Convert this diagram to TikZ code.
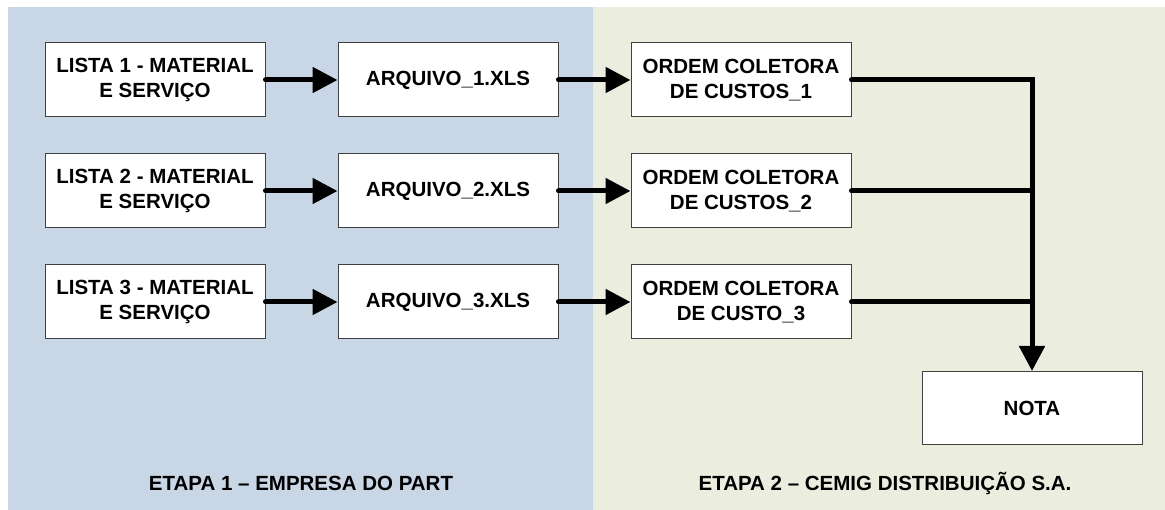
\documentclass[tikz,border=0pt]{standalone}
\usepackage{fontspec}
\setmainfont{Liberation Sans}
\usetikzlibrary{arrows.meta,positioning}
\definecolor{etapaum}{HTML}{C9D6E6}
\definecolor{etapadois}{HTML}{EBEEDF}
\definecolor{borda}{HTML}{404040}

\begin{document}
\begin{tikzpicture}[x=1pt,y=-1pt,
	caixa/.style={draw=borda, line width=1pt, fill=white, minimum width=220pt, minimum height=74pt, inner sep=0pt, align=center, font=\fontsize{20.5}{25}\selectfont\bfseries},
	seta/.style={line width=5pt, line cap=round, line join=miter, -{Triangle[length=25pt,width=25pt]}},
	linha/.style={line width=5pt, line cap=round},
	rotulo/.style={anchor=base, font=\fontsize{20.5}{25}\selectfont\bfseries}]

	\useasboundingbox (0,0) rectangle (1165,510);
	\fill[etapaum] (8,7) rectangle (593,510);
	\fill[etapadois] (593,7) rectangle (1165,510);

	\node[caixa] (lista1) at (155,80) {LISTA 1 - MATERIAL\\E SERVIÇO};
	\node[caixa, below=36pt of lista1] (lista2) {LISTA 2 - MATERIAL\\E SERVIÇO};
	\node[caixa, below=36pt of lista2] (lista3) {LISTA 3 - MATERIAL\\E SERVIÇO};

	\node[caixa, right=72pt of lista1] (arquivo1) {ARQUIVO\_1.XLS};
	\node[caixa, right=72pt of lista2] (arquivo2) {ARQUIVO\_2.XLS};
	\node[caixa, right=72pt of lista3] (arquivo3) {ARQUIVO\_3.XLS};

	\node[caixa, right=72pt of arquivo1] (ordem1) {ORDEM COLETORA\\DE CUSTOS\_1};
	\node[caixa, right=72pt of arquivo2] (ordem2) {ORDEM COLETORA\\DE CUSTOS\_2};
	\node[caixa, right=72pt of arquivo3] (ordem3) {ORDEM COLETORA\\DE CUSTO\_3};

	\node[caixa, minimum height=73pt] (nota) at (1032,408) {NOTA};

	\draw[seta] (lista1) -- (arquivo1);
	\draw[seta] (lista2) -- (arquivo2);
	\draw[seta] (lista3) -- (arquivo3);
	\draw[seta] (arquivo1) -- (ordem1);
	\draw[seta] (arquivo2) -- (ordem2);
	\draw[seta] (arquivo3) -- (ordem3);

	\coordinate (juncao) at (ordem1.east -| nota.north);
	\draw[seta] (ordem1.east) -- (juncao) -- (nota.north);
	\draw[linha] (ordem2.east) -- (ordem2.east -| juncao);
	\draw[linha] (ordem3.east) -- (ordem3.east -| juncao);

	\node[rotulo] (etapa1) at (301,490) {ETAPA 1 – EMPRESA DO PART};
	\node[rotulo] (etapa2) at (885,490) {ETAPA 2 – CEMIG DISTRIBUIÇÃO S.A.};

\end{tikzpicture}
\end{document}
